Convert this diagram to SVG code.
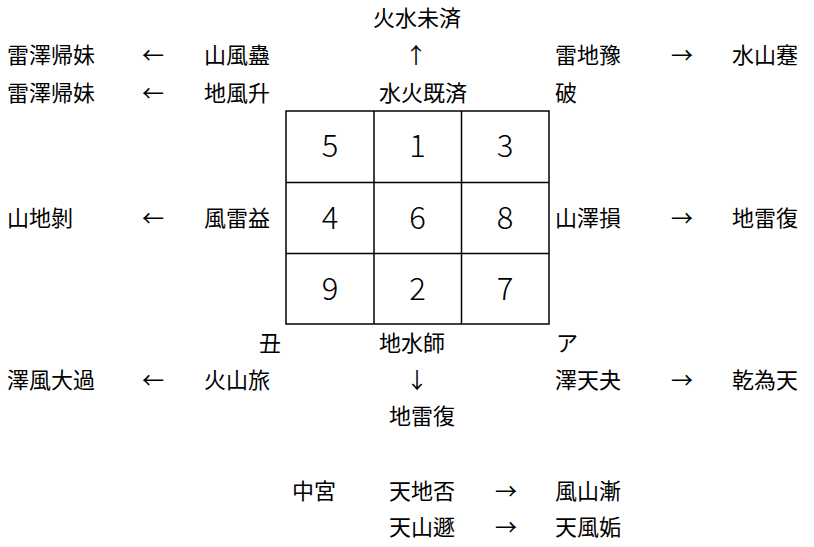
<svg xmlns="http://www.w3.org/2000/svg" width="814" height="547" viewBox="0 0 814 547">
<style>
text{font-family:"Noto Sans CJK JP","Noto Sans",sans-serif;fill:#000;}
.t{font-size:22px;}
.n{font-size:31px;font-weight:300;text-anchor:middle;}
.g{fill:none;stroke:#000;stroke-width:1.5;}
</style>
<rect width="814" height="547" fill="#fff"/>
<g id="grid">
<rect class="g" x="286" y="111" width="263" height="213"/>
<line class="g" x1="374" y1="111" x2="374" y2="324"/>
<line class="g" x1="461.5" y1="111" x2="461.5" y2="324"/>
<line class="g" x1="286" y1="182.5" x2="549" y2="182.5"/>
<line class="g" x1="286" y1="253.5" x2="549" y2="253.5"/>
<text class="n" x="330" y="157">5</text>
<text class="n" x="417.5" y="157">1</text>
<text class="n" x="505" y="157">3</text>
<text class="n" x="330" y="229">4</text>
<text class="n" x="417.5" y="229">6</text>
<text class="n" x="505" y="229">8</text>
<text class="n" x="330" y="300">9</text>
<text class="n" x="417.5" y="300">2</text>
<text class="n" x="505" y="300">7</text>
</g>
<g id="top">
<text class="t" id="n-kasuimisei" x="373" y="26">火水未済</text>
<text class="t" id="n-suikakisei" x="379" y="101">水火既済</text>
</g>
<g id="upper-left">
<text class="t" x="7" y="63">雷澤帰妹</text>
<text class="t" x="204" y="63">山風蠱</text>
<text class="t" x="7" y="101">雷澤帰妹</text>
<text class="t" x="204" y="101">地風升</text>
</g>
<g id="upper-right">
<text class="t" x="555" y="63">雷地豫</text>
<text class="t" x="732" y="63">水山蹇</text>
<text class="t" x="555" y="101">破</text>
</g>
<g id="middle-left">
<text class="t" x="7" y="226">山地剝</text>
<text class="t" x="204" y="226">風雷益</text>
</g>
<g id="middle-right">
<text class="t" x="555" y="226">山澤損</text>
<text class="t" x="732" y="226">地雷復</text>
</g>
<g id="bottom">
<text class="t" x="259" y="351">丑</text>
<text class="t" x="379" y="351">地水師</text>
<text class="t" x="556" y="351">ア</text>
<text class="t" x="389" y="424">地雷復</text>
</g>
<g id="lower-left">
<text class="t" x="7" y="388">澤風大過</text>
<text class="t" x="204" y="388">火山旅</text>
</g>
<g id="lower-right">
<text class="t" x="555" y="388">澤天夬</text>
<text class="t" x="732" y="388">乾為天</text>
</g>
<g id="center-palace">
<text class="t" x="292" y="499">中宮</text>
<text class="t" x="389" y="499">天地否</text>
<text class="t" x="555" y="499">風山漸</text>
<text class="t" x="389" y="535">天山遯</text>
<text class="t" x="555" y="535">天風姤</text>
</g>
<g id="connectors">
<text class="t" x="142" y="63">←</text>
<text class="t" x="142" y="101">←</text>
<text class="t" x="142" y="226">←</text>
<text class="t" x="142" y="388">←</text>
<text class="t" x="405" y="63">↑</text>
<text class="t" x="406" y="388">↓</text>
<text class="t" x="671" y="63">→</text>
<text class="t" x="671" y="226">→</text>
<text class="t" x="671" y="388">→</text>
<text class="t" x="495" y="499">→</text>
<text class="t" x="495" y="535">→</text>
</g>
</svg>
